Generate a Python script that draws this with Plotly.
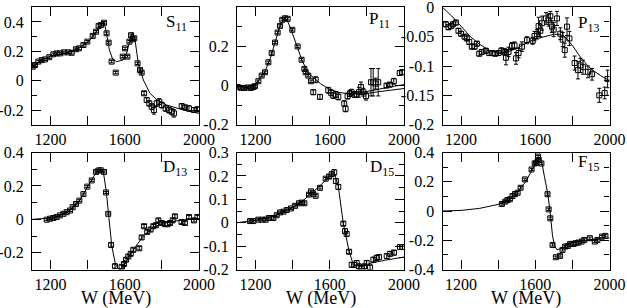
import plotly.graph_objects as go

# ---------------- data ----------------
s11_w = [1104,1116,1134,1152,1170,1193,1215,1233,1251,1272,1296,1314,1337,1353,1377,1398,1427,1445,1459,1472,1488,1502,1513,1529,1551,1589,1601,1614,1625,1634,1642,1651,1669,1682,1691,1704,1718,1732,1745,1757,1772,1786,1799,1820,1838,1853,1865,1907,1925,1946,1973,1991]
s11_v = [0.095,0.107,0.13,0.14,0.145,0.16,0.18,0.186,0.186,0.193,0.193,0.19,0.214,0.22,0.243,0.266,0.305,0.334,0.373,0.38,0.395,0.323,0.259,0.13,0.055,0.164,0.22,0.164,0.266,0.31,0.282,0.289,0.118,0.073,0.055,-0.086,-0.132,-0.155,-0.177,-0.2,-0.155,-0.143,-0.166,-0.189,-0.2,-0.211,-0.223,-0.173,-0.182,-0.189,-0.2,-0.195]
s11_e = [0.008]*35 + [0.012,0.015,0.018,0.02,0.028,0.02,0.02,0.02,0.02,0.02,0.02,0.025,0.015,0.015,0.018,0.015,0.015]
s11_fit_w = [1100,1150,1200,1250,1300,1350,1400,1440,1470,1488,1502,1517,1535,1556,1589,1610,1628,1642,1655,1673,1700,1736,1772,1826,1916,2000]
s11_fit_v = [0.085,0.14,0.165,0.18,0.195,0.22,0.26,0.32,0.37,0.402,0.32,0.21,0.145,0.13,0.14,0.186,0.277,0.327,0.28,0.118,0.005,-0.086,-0.13,-0.166,-0.2,-0.223]

p11_w = [1104,1122,1139,1157,1175,1188,1197,1215,1233,1251,1269,1287,1305,1319,1332,1344,1359,1373,1398,1427,1448,1463,1470,1484,1499,1511,1524,1547,1592,1607,1619,1632,1646,1678,1685,1696,1708,1717,1732,1744,1757,1768,1781,1795,1822,1834,1847,1861,1906,1924,1945,1977,1990]
p11_v = [-0.007,-0.012,-0.012,-0.01,-0.012,-0.007,-0.003,0.022,0.051,0.068,0.119,0.166,0.22,0.271,0.305,0.336,0.344,0.341,0.285,0.2,0.132,0.085,0.068,0.051,0.022,-0.034,0.03,-0.058,-0.024,-0.037,-0.051,-0.046,-0.058,-0.092,-0.119,-0.054,-0.041,-0.034,-0.046,-0.046,-0.034,-0.007,-0.034,-0.054,0.017,0.017,0.01,0.017,0.0,0.005,0.022,0.064,0.068]
p11_e = [0.006]*25 + [0.012,0.015,0.012,0.015,0.015,0.015,0.015,0.015,0.015,0.015,0.015,0.015,0.015,0.015,0.015,0.025,0.025,0.02,0.02,0.07,0.07,0.028,0.07,0.01,0.01,0.015,0.012,0.012]
p11_fit_w = [1100,1150,1190,1220,1250,1280,1300,1330,1350,1370,1390,1420,1450,1480,1500,1550,1600,1650,1700,1750,1800,1850,1900,1950,2000]
p11_fit_v = [-0.005,-0.01,-0.006,0.03,0.07,0.14,0.2,0.3,0.335,0.335,0.29,0.21,0.13,0.07,0.05,0.01,-0.02,-0.035,-0.042,-0.043,-0.04,-0.033,-0.027,-0.02,-0.015]
p11_fit2_w = [1700,1750,1800,1850,1900,1950,2000]
p11_fit2_v = [-0.042,-0.038,-0.03,-0.02,-0.01,-0.003,0.005]

p13_w = [1118,1132,1147,1156,1172,1186,1200,1219,1231,1244,1258,1273,1285,1298,1312,1334,1352,1370,1384,1402,1417,1435,1442,1456,1474,1488,1496,1510,1528,1555,1586,1596,1609,1618,1627,1636,1658,1672,1681,1690,1699,1717,1735,1748,1759,1771,1784,1812,1830,1843,1857,1884,1906,1945,1974,1990]
p13_v = [-0.029,-0.034,-0.032,-0.029,-0.026,-0.04,-0.045,-0.05,-0.053,-0.059,-0.067,-0.067,-0.062,-0.079,-0.076,-0.074,-0.078,-0.078,-0.079,-0.078,-0.074,-0.076,-0.086,-0.076,-0.066,-0.065,-0.087,-0.078,-0.067,-0.056,-0.057,-0.049,-0.046,-0.032,-0.04,-0.027,-0.019,-0.022,-0.015,-0.033,-0.038,-0.019,-0.045,-0.055,-0.073,-0.033,-0.053,-0.095,-0.107,-0.099,-0.102,-0.11,-0.114,-0.15,-0.146,-0.122]
p13_e = [0.004]*20 + [0.005,0.006,0.012,0.008,0.006,0.006,0.01,0.008,0.008,0.006,0.006,0.008,0.008,0.015,0.01,0.012,0.01,0.01,0.008,0.01,0.012,0.012,0.01,0.012,0.012,0.015,0.012,0.012,0.015,0.012,0.012,0.01,0.01,0.012,0.01,0.015]
p13_fit_w = [1100,1150,1200,1250,1300,1350,1400,1450,1500,1550,1600,1650,1700,1730,1760,1800,1850,1900,1950,2000]
p13_fit_v = [0.0,-0.015,-0.032,-0.05,-0.063,-0.073,-0.078,-0.076,-0.07,-0.061,-0.054,-0.05,-0.046,-0.046,-0.05,-0.065,-0.088,-0.105,-0.116,-0.125]

d13_w = [1179,1197,1215,1233,1251,1269,1287,1305,1319,1337,1355,1377,1398,1422,1445,1458,1470,1488,1499,1511,1526,1547,1583,1596,1607,1619,1632,1646,1678,1691,1704,1721,1739,1754,1768,1781,1799,1817,1831,1844,1858,1870,1906,1924,1946,1973,1991]
d13_v = [-0.002,0.004,0.008,0.014,0.024,0.033,0.043,0.053,0.073,0.092,0.112,0.151,0.196,0.233,0.284,0.292,0.294,0.284,0.161,0.033,-0.153,-0.28,-0.284,-0.267,-0.241,-0.222,-0.206,-0.182,-0.173,-0.108,-0.041,-0.075,-0.061,-0.041,-0.035,-0.006,-0.022,-0.029,-0.029,-0.022,-0.006,0.018,-0.016,-0.022,0.014,-0.006,0.014]
d13_e = [0.006]*20 + [0.012,0.012] + [0.01]*25
d13_fit_w = [1100,1150,1200,1250,1300,1350,1400,1440,1470,1485,1500,1515,1530,1550,1570,1590,1620,1660,1700,1750,1800,1850,1900,1950,2000]
d13_fit_v = [0.0,0.003,0.008,0.025,0.05,0.1,0.19,0.27,0.3,0.28,0.17,0.0,-0.16,-0.27,-0.3,-0.29,-0.23,-0.16,-0.1,-0.05,-0.025,-0.015,-0.005,0.0,0.005]

d15_w = [1170,1188,1215,1237,1255,1272,1296,1314,1332,1350,1368,1391,1413,1434,1449,1463,1488,1499,1511,1524,1547,1578,1596,1610,1624,1633,1646,1673,1682,1691,1704,1718,1732,1745,1757,1772,1786,1799,1817,1835,1853,1865,1907,1925,1946,1978,1991]
d15_v = [0.007,0.007,0.013,0.013,0.013,0.02,0.02,0.032,0.044,0.047,0.054,0.061,0.072,0.083,0.086,0.083,0.12,0.134,0.124,0.115,0.149,0.188,0.197,0.207,0.215,0.178,0.153,-0.004,-0.036,-0.048,-0.124,-0.18,-0.18,-0.172,-0.187,-0.194,-0.187,-0.172,-0.191,-0.158,-0.15,-0.147,-0.143,-0.133,-0.128,-0.104,-0.104]
d15_e = [0.005]*22 + [0.008,0.01,0.012,0.01,0.01,0.008,0.01,0.01,0.008] + [0.01]*16
d15_fit_w = [1100,1200,1300,1400,1450,1500,1550,1600,1624,1646,1673,1704,1727,1772,1826,1900,2000]
d15_fit_v = [0.0,0.01,0.028,0.065,0.09,0.125,0.16,0.2,0.215,0.156,-0.004,-0.121,-0.18,-0.187,-0.172,-0.16,-0.147]

f15_w = [1420,1438,1450,1463,1477,1491,1505,1521,1544,1580,1597,1605,1615,1619,1633,1666,1672,1681,1693,1711,1734,1747,1761,1775,1788,1806,1818,1833,1850,1864,1894,1921,1935,1960,1978]
f15_v = [0.048,0.064,0.075,0.08,0.102,0.116,0.125,0.159,0.216,0.284,0.325,0.33,0.372,0.348,0.325,0.115,0.011,-0.05,-0.232,-0.316,-0.307,-0.266,-0.243,-0.239,-0.225,-0.225,-0.22,-0.216,-0.209,-0.198,-0.186,-0.209,-0.198,-0.175,-0.17]
f15_e = [0.008]*35
f15_fit_w = [1100,1200,1300,1400,1450,1500,1550,1580,1600,1620,1635,1650,1668,1681,1693,1705,1717,1743,1797,1850,1900,1950,2000]
f15_fit_v = [0.0,0.004,0.018,0.045,0.07,0.118,0.205,0.27,0.32,0.37,0.335,0.23,0.114,-0.02,-0.17,-0.24,-0.265,-0.255,-0.216,-0.205,-0.198,-0.192,-0.185]

panel_names = ["S<sub>11</sub>", "P<sub>11</sub>", "P<sub>13</sub>", "D<sub>13</sub>", "D<sub>15</sub>", "F<sub>15</sub>"]
x_title = "W (MeV)"
x_ticks = [1200, 1400, 1600, 1800, 2000]
x_tick_text = ["1200", "", "1600", "", "2000"]

panels = [
    dict(w=s11_w, v=s11_v, e=s11_e, fits=[(s11_fit_w, s11_fit_v)], yr=[-0.3, 0.5],
         yt=[-0.2, 0, 0.2, 0.4], ytt=["-0.2", "0", "0.2", "0.4"], ym=0.1, lab=(0.79, 0.87)),
    dict(w=p11_w, v=p11_v, e=p11_e, fits=[(p11_fit_w, p11_fit_v), (p11_fit2_w, p11_fit2_v)], yr=[-0.2, 0.4],
         yt=[-0.2, 0, 0.2], ytt=["-0.2", "0", "0.2"], ym=0.1, lab=(0.78, 0.89)),
    dict(w=p13_w, v=p13_v, e=p13_e, fits=[(p13_fit_w, p13_fit_v)], yr=[-0.2, 0.0],
         yt=[-0.2, -0.15, -0.1, -0.05, 0], ytt=["-0.2", "-0.15", "-0.1", "-0.05", "0"], ym=0.025, lab=(0.80, 0.86)),
    dict(w=d13_w, v=d13_v, e=d13_e, fits=[(d13_fit_w, d13_fit_v)], yr=[-0.3, 0.4],
         yt=[-0.2, 0, 0.2, 0.4], ytt=["-0.2", "0", "0.2", "0.4"], ym=0.1, lab=(0.77, 0.865)),
    dict(w=d15_w, v=d15_v, e=d15_e, fits=[(d15_fit_w, d15_fit_v)], yr=[-0.2, 0.3],
         yt=[-0.2, -0.1, 0, 0.1, 0.2, 0.3], ytt=["-0.2", "-0.1", "0", "0.1", "0.2", "0.3"], ym=0.05, lab=(0.785, 0.865)),
    dict(w=f15_w, v=f15_v, e=f15_e, fits=[(f15_fit_w, f15_fit_v)], yr=[-0.4, 0.4],
         yt=[-0.4, -0.2, 0, 0.2, 0.4], ytt=["-0.4", "-0.2", "0", "0.2", "0.4"], ym=0.1, lab=(0.80, 0.91)),
]

W, H = 627, 308
col_px = [(32, 199), (237, 404), (442.5, 609.5)]
row_px = [(7.3, 124.7), (152.5, 269.5)]

FONT = "Liberation Serif"
fig = go.Figure()
layout = dict(template="none", width=W, height=H, margin=dict(l=0, r=0, t=0, b=0, autoexpand=False),
              paper_bgcolor="white", plot_bgcolor="white", showlegend=False,
              font=dict(family=FONT, size=16, color="black"))
annotations = []

for i, p in enumerate(panels):
    r, c = divmod(i, 3)
    n = "" if i == 0 else str(i + 1)
    xa, ya = "x" + n, "y" + n
    for fw, fv in p["fits"]:
        fig.add_trace(go.Scatter(x=fw, y=fv, mode="lines", line=dict(color="black", width=1),
                                 xaxis=xa, yaxis=ya, hoverinfo="skip", cliponaxis=True))
    fig.add_trace(go.Scatter(x=p["w"], y=p["v"], mode="markers",
                             marker=dict(symbol="square-open", size=5, color="black", line=dict(width=1)),
                             error_y=dict(type="data", array=p["e"], color="black", thickness=1, width=2),
                             xaxis=xa, yaxis=ya, cliponaxis=True))
    x0, x1 = col_px[c]
    y0, y1 = row_px[r]
    common = dict(showline=True, linecolor="black", linewidth=1.2, mirror="ticks",
                  ticks="inside", ticklen=9, tickwidth=1, tickcolor="black",
                  showgrid=False, zeroline=False, automargin=False, ticklabeloverflow="allow",
                  tickfont=dict(family=FONT, size=16, color="black"))
    xdict = dict(common, domain=[x0 / W, x1 / W], range=[1100, 2000], anchor=ya,
                 tickmode="array", tickvals=x_ticks, ticktext=x_tick_text)
    ydict = dict(common, domain=[1 - y1 / H, 1 - y0 / H], range=p["yr"], anchor=xa,
                 tickmode="array", tickvals=p["yt"], ticktext=p["ytt"], ticklabelstandoff=4,
                 minor=dict(ticks="inside", ticklen=5, tickwidth=1, tickcolor="black", dtick=p["ym"],
                            tick0=0, showgrid=False))
    layout["xaxis" + n] = xdict
    layout["yaxis" + n] = ydict
    annotations.append(dict(text=panel_names[i], xref=xa + " domain", yref=ya + " domain",
                            x=p["lab"][0], y=p["lab"][1], xanchor="left", yanchor="middle",
                            showarrow=False, font=dict(family=FONT, size=17, color="black")))
    if r == 1:
        annotations.append(dict(text=x_title, xref="paper", yref="paper",
                                x=(x0 + x1) / 2 / W, y=1 - 298 / H, xanchor="center", yanchor="middle",
                                showarrow=False, font=dict(family=FONT, size=18, color="black")))

layout["annotations"] = annotations
fig.update_layout(**layout)
fig.write_html("out.html", config={"displayModeBar": False},
               post_script="document.body.style.margin='0px';")
